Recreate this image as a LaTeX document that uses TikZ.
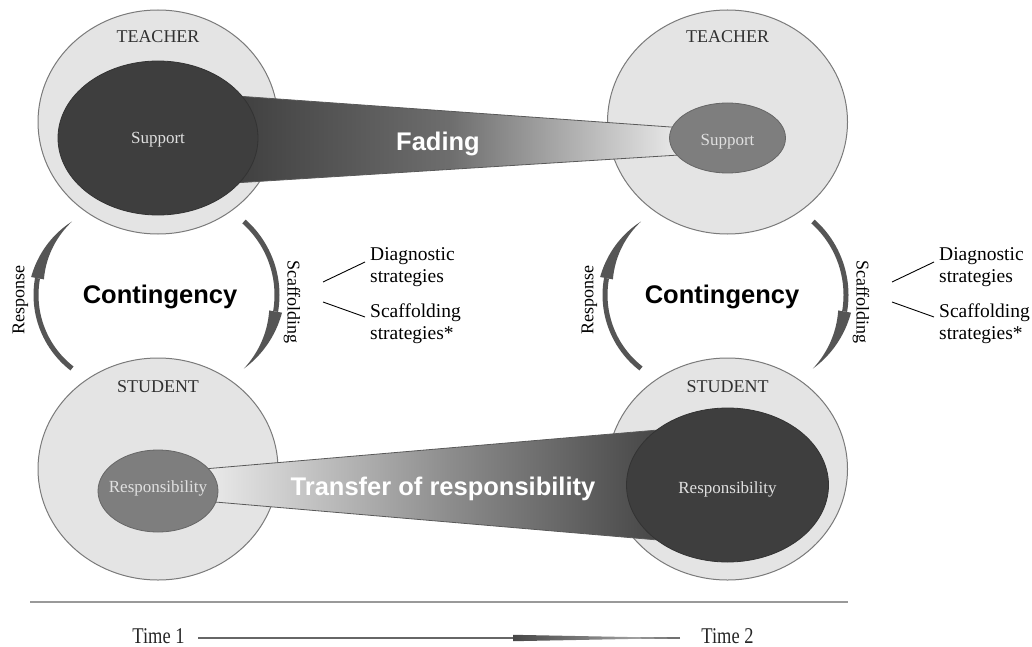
\documentclass[tikz,border=0pt]{standalone}
\usepackage{fontspec}
\setmainfont{Liberation Serif}
\newfontfamily\sansb{Liberation Sans}
\newfontfamily\condserif[FakeStretch=0.82]{Liberation Serif}
\usetikzlibrary{shapes.geometric}
\definecolor{outerfill}{HTML}{E4E4E4}
\definecolor{outerline}{HTML}{7A7A7A}
\definecolor{darkfill}{HTML}{3E3E3E}
\definecolor{midfill}{HTML}{7E7E7E}
\definecolor{arcgray}{HTML}{555555}
\definecolor{labelgray}{HTML}{303030}
\tikzset{
 outer/.style={ellipse, draw=outerline, fill=outerfill, line width=1pt, inner sep=0pt, minimum width=240pt},
 darkell/.style={ellipse, draw=black!80, fill=darkfill, line width=0.8pt, inner sep=0pt},
 midell/.style={ellipse, draw=black!60, fill=midfill, line width=0.8pt, inner sep=0pt},
 rolelabel/.style={font=\fontsize{18}{20}\selectfont, text=labelgray, inner sep=0pt, anchor=base},
 innerlabel/.style={font=\fontsize{17}{19}\selectfont, text=white!88!black, inner sep=0pt, anchor=base},
 bandtext/.style={font=\sansb\bfseries\fontsize{25.5}{28}\selectfont, text=white, inner sep=0pt, anchor=base},
 conttext/.style={font=\sansb\bfseries\fontsize{25.5}{28}\selectfont, text=black, inner sep=0pt, anchor=base},
 arclabel/.style={font=\fontsize{18}{20}\selectfont, inner sep=0pt},
 stratlabel/.style={font=\fontsize{19.5}{22}\selectfont, align=left, inner sep=0pt, anchor=north west},
 leader/.style={draw=black, line width=0.9pt},
 arcline/.style={draw=arcgray, line width=5pt},
 band/.style={draw=black!65, line width=0.8pt},
 timelabel/.style={font=\condserif\fontsize{22.5}{24}\selectfont, inner sep=0pt, anchor=base, text=black!85},
}
\newcommand\contgroup[3]{%
 \begin{scope}[xshift=#1pt]
  \draw[arcline] plot[smooth, domain=232.2:169.6, samples=25, variable=\t] ({129+93*cos(\t)},{295-93*sin(\t)});
  \fill[arcgray] plot[domain=169.6:127.8, samples=25, variable=\t] ({129+(93+6.5*(\t-127.8)/41.8)*cos(\t)},{295-(93+6.5*(\t-127.8)/41.8)*sin(\t)})
     -- plot[domain=127.8:169.6, samples=25, variable=\t] ({129+(93-6.5*(\t-127.8)/41.8)*cos(\t)},{295-(93-6.5*(\t-127.8)/41.8)*sin(\t)}) -- cycle;
  \draw[arcline] plot[smooth, domain=48.4:-9.7, samples=25, variable=\t] ({178.7+98.3*cos(\t)},{295-98.3*sin(\t)});
  \fill[arcgray] plot[domain=-9.7:-48.4, samples=25, variable=\t] ({178.7+(98.3+6.5*(\t+48.4)/38.7)*cos(\t)},{295-(98.3+6.5*(\t+48.4)/38.7)*sin(\t)})
     -- plot[domain=-48.4:-9.7, samples=25, variable=\t] ({178.7+(98.3-6.5*(\t+48.4)/38.7)*cos(\t)},{295-(98.3-6.5*(\t+48.4)/38.7)*sin(\t)}) -- cycle;
  \node[arclabel, rotate=90] (resp#2) at (20.5,300) {Response};
  \node[arclabel, rotate=-90] (scaf#2) at (292,302) {Scaffolding};
  \node[conttext] (cont#2) at (#3,303) {Contingency};
  \node[stratlabel] (diag#2) at (370,247) {Diagnostic\\strategies};
  \node[stratlabel] (scst#2) at (370,304) {Scaffolding\\strategies*};
  \coordinate (la#2) at (323,282); \coordinate (lb#2) at (365,262);
  \coordinate (lc#2) at (323,302); \coordinate (ld#2) at (365,317);
  \draw[leader] (la#2) -- (lb#2);
  \draw[leader] (lc#2) -- (ld#2);
 \end{scope}}
\begin{document}
\begin{tikzpicture}[x=1pt,y=-1pt]
\useasboundingbox[fill=white] (0,0) rectangle (1032,647);
% outer circles
\node[outer, minimum height=224pt] (T1) at (158,122) {};
\node[outer, minimum height=224pt] (T2) at (727.5,122) {};
\node[outer, minimum height=222pt] (S1) at (158,469) {};
\node[outer, minimum height=222pt] (S2) at (727.5,469) {};
% bands
\shadedraw[band, left color=black!78, right color=black!4, middle color=black!57]
  (200,93.4) -- (700,129.1) -- (700,153.7) -- (200,185.1) -- cycle;
\shadedraw[band, left color=black!7, right color=black!78, middle color=black!45]
  (200,469.3) -- (700,426.4) -- (700,543.6) -- (200,500.7) -- cycle;
% inner ellipses
\node[darkell, minimum width=200pt, minimum height=154pt] (sup1) at (158,138) {};
\node[midell, minimum width=116pt, minimum height=70pt] (sup2) at (727.5,138) {};
\node[midell, minimum width=120pt, minimum height=82pt] (res1) at (158,491) {};
\node[darkell, minimum width=202pt, minimum height=154pt] (res2) at (727.5,485) {};
% labels
\node[rolelabel] (t1lab) at (158,43) {TEACHER};
\node[rolelabel] (t2lab) at (727.5,43) {TEACHER};
\node[rolelabel] (s1lab) at (158,392) {STUDENT};
\node[rolelabel] (s2lab) at (727.5,392) {STUDENT};
\node[innerlabel] (sup1lab) at (158,144) {Support};
\node[innerlabel] (sup2lab) at (727.5,146) {Support};
\node[innerlabel] (res1lab) at (158,492) {Responsibility};
\node[innerlabel] (res2lab) at (727.5,493) {Responsibility};
\node[bandtext] (fading) at (438,150) {Fading};
\node[bandtext] (transfer) at (443,495) {Transfer of responsibility};
% contingency groups
\contgroup{0}{L}{160}
\contgroup{569}{R}{153}
% bottom
\coordinate (sepL) at (30,602); \coordinate (sepR) at (848,602);
\draw[draw=black!40, line width=1.8pt] (sepL) -- (sepR);
\node[timelabel] (time1) at (158.5,643) {Time 1};
\node[timelabel] (time2) at (727.5,643) {Time 2};
\coordinate (tlA) at (198,638); \coordinate (tlB) at (680,638);
\coordinate (twA) at (513,634.8); \coordinate (twB) at (513,641.2);
\draw[draw=black!60, line width=1.3pt] (tlA) -- (tlB);
\shade[left color=black!72, right color=black!25] (twA) -- (tlB) -- (twB) -- cycle;
\end{tikzpicture}
\end{document}
